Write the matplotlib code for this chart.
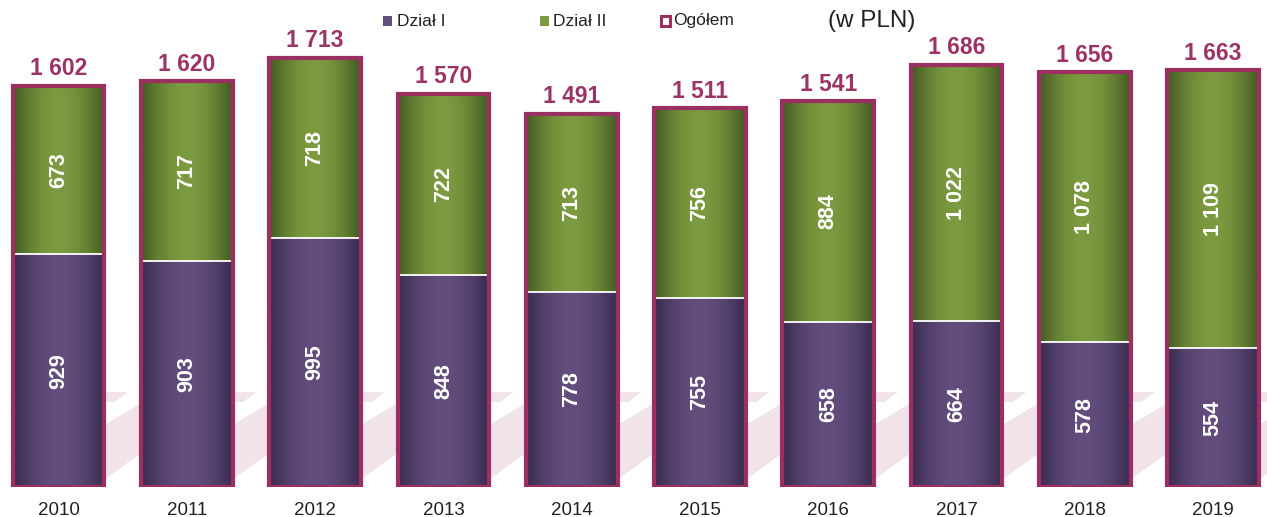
import numpy as np
import matplotlib
matplotlib.use("Agg")
import matplotlib.pyplot as plt
from matplotlib.colors import LinearSegmentedColormap
from matplotlib.patches import Polygon, Rectangle

plt.rcParams['font.family'] = ['Liberation Sans', 'DejaVu Sans']

years = ['2010', '2011', '2012', '2013', '2014', '2015', '2016', '2017', '2018', '2019']
dzial1 = [929, 903, 995, 848, 778, 755, 658, 664, 578, 554]
dzial2 = [673, 717, 718, 722, 713, 756, 884, 1022, 1078, 1109]
ogolem = [1602, 1620, 1713, 1570, 1491, 1511, 1541, 1686, 1656, 1663]

series_names = ['Dział I', 'Dział II', 'Ogółem']
unit_label = '(w PLN)'

W, H = 1267, 517
fig = plt.figure(figsize=(W / 100, H / 100), dpi=100)

# axes: y=0 at pixel row 487, full width
bottom_px = 487
ax = fig.add_axes([0, (H - bottom_px) / H, 1, bottom_px / H])
ax.patch.set_visible(False)

PURPLE_D, PURPLE_L = '#3e2f53', '#624d7d'
GREEN_D, GREEN_L = '#4a6126', '#7c9a3f'
OUTLINE = '#9b2f62'
LABEL_C = '#9c3366'

x = np.arange(len(years))
w_in = 0.685
w_out = 0.715

b1 = ax.bar(x, dzial1, width=w_in, color=PURPLE_D, zorder=2, linewidth=0)
b2 = ax.bar(x, dzial2, width=w_in, bottom=dzial1, color=GREEN_D, zorder=2, linewidth=0)

t = np.linspace(0, 1, 256)
prof = np.clip(np.sin(np.pi * np.clip((t - 0.02) / 0.96, 0, 1)) ** 0.9, 0, 1)
grad = prof[np.newaxis, :]


def gradient(bars, c_dark, c_light):
    cmap = LinearSegmentedColormap.from_list('g', [c_dark, c_light])
    for p in bars:
        x0, y0 = p.get_xy()
        im = ax.imshow(grad, extent=[x0, x0 + p.get_width(), y0, y0 + p.get_height()],
                       cmap=cmap, vmin=0, vmax=1, aspect='auto', interpolation='bilinear',
                       zorder=2.5)
        im.set_clip_path(p)


gradient(b1, PURPLE_D, PURPLE_L)
gradient(b2, GREEN_D, GREEN_L)

# white separator between segments
ax.hlines(dzial1, x - w_in / 2, x + w_in / 2, color='white', lw=1.3, zorder=3)

# total outline
ax.bar(x, ogolem, width=w_out, facecolor='none', edgecolor=OUTLINE, linewidth=3.0,
       zorder=4, joinstyle='miter')


def fmt(v):
    return f'{v:,}'.replace(',', ' ')


for xi, a, b, tot in zip(x, dzial1, dzial2, ogolem):
    ax.text(xi, a / 2, fmt(a), rotation=90, ha='center', va='center', color='white',
            fontsize=15.5, fontweight='bold', zorder=5)
    ax.text(xi, a + b / 2, fmt(b), rotation=90, ha='center', va='center', color='white',
            fontsize=15.5, fontweight='bold', zorder=5)
    ax.annotate(fmt(tot), (xi, tot), xytext=(0, 7.5), textcoords='offset points',
                ha='center', va='baseline', color=LABEL_C, fontsize=16.5,
                fontweight='bold', zorder=5)

px_per_unit = 128.3
x_left = -58.5 / px_per_unit
ax.set_xlim(x_left, x_left + W / px_per_unit)
ax.set_ylim(0, bottom_px / 0.2505)
ax.set_xticks(x)
ax.set_xticklabels(years, fontsize=13.5, color='#222222')
ax.tick_params(axis='x', length=0, pad=10.5)
ax.set_yticks([])
for s in ax.spines.values():
    s.set_visible(False)


# watermark stripes (figure pixel coords)
def fpx(px, py):
    return (px / W, (H - py) / H)


WM = '#f1e3e9'
for i in range(0, len(years)):
    g = 106 + 128.3 * i
    band = [(g - 12, 431), (g + 42, 399), (g + 42, 448), (g - 12, 487), ]
    fig.add_artist(Polygon([fpx(*p) for p in band], closed=True, facecolor=WM,
                           edgecolor='none', zorder=-1, transform=fig.transFigure))
    top = [(g - 6, 392), (g + 22, 392), (g + 9, 402), (g - 6, 402)]
    fig.add_artist(Polygon([fpx(*p) for p in top], closed=True, facecolor=WM,
                           edgecolor='none', zorder=-1, transform=fig.transFigure))

# legend (manual)
def sq(px, py, s, fc, ec, lw):
    x0, y0 = fpx(px, py + s)
    fig.add_artist(Rectangle((x0, y0), s / W, s / H, facecolor=fc, edgecolor=ec,
                             linewidth=lw, transform=fig.transFigure, zorder=6))


leg_y = 21
sq(383, 16.5, 9, PURPLE_L, 'none', 0)
fig.text(*fpx(397, leg_y), series_names[0], fontsize=12.5, color='#222222', va='center', ha='left')
sq(540, 16.5, 9, GREEN_L, 'none', 0)
fig.text(*fpx(553, leg_y), series_names[1], fontsize=12.5, color='#222222', va='center', ha='left')
sq(661, 16.5, 9, 'white', OUTLINE, 2.2)
fig.text(*fpx(673, leg_y), series_names[2], fontsize=12.5, color='#222222', va='center', ha='left')
fig.text(*fpx(828, leg_y), unit_label, fontsize=17.5, color='#222222', va='center', ha='left')

fig.savefig('out.png', dpi=100)
